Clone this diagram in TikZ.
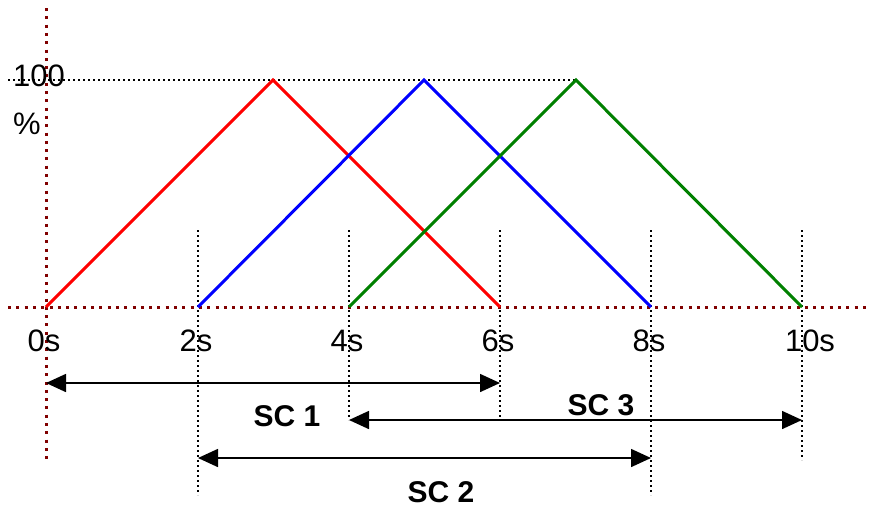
\documentclass[tikz,border=0pt]{standalone}
\usepackage{fontspec}
\setmainfont{Liberation Sans}
\usetikzlibrary{arrows.meta}
\definecolor{axisred}{RGB}{128,0,0}
\definecolor{dgreen}{RGB}{0,128,0}
\begin{document}
\begin{tikzpicture}[x=1pt,y=-1pt,
  axisline/.style={draw=axisred,line width=3pt,dash pattern=on 3pt off 5.3pt},
  guide/.style={draw=black,line width=1.8pt,dash pattern=on 1.8pt off 3.2pt},
  ramp/.style={line width=3pt,line join=miter},
  span/.style={draw=black,line width=1.6pt,{Triangle[length=20pt,width=18pt]}-{Triangle[length=20pt,width=18pt]}},
  ticklbl/.style={font=\fontsize{31}{36}\selectfont,inner sep=0pt},
  sclbl/.style={font=\fontsize{30}{36}\selectfont\bfseries,inner sep=0pt}]
\useasboundingbox (0,0) rectangle (869,512);
% coordinates
\coordinate (t0) at (46,307);
\coordinate (t2) at (198,307);
\coordinate (t4) at (349,307);
\coordinate (t6) at (500,307);
\coordinate (t8) at (651,307);
\coordinate (t10) at (802,307);
\coordinate (pr) at (273,80);
\coordinate (pb) at (424,80);
\coordinate (pg) at (576,80);
% guides
\coordinate (hl) at (8,80);
\draw[guide] (hl) -- (pg);
\coordinate (g2a) at (198,230); \coordinate (g2b) at (198,495);
\coordinate (g4a) at (349,230); \coordinate (g4b) at (349,420);
\coordinate (g6a) at (500,230); \coordinate (g6b) at (500,420);
\coordinate (g8a) at (651,230); \coordinate (g8b) at (651,495);
\coordinate (g10a) at (802,230); \coordinate (g10b) at (802,460);
\draw[guide] (g2a) -- (g2b);
\draw[guide] (g4a) -- (g4b);
\draw[guide] (g6a) -- (g6b);
\draw[guide] (g8a) -- (g8b);
\draw[guide] (g10a) -- (g10b);
% axes
\coordinate (ya) at (46,8); \coordinate (yb) at (46,460);
\coordinate (xa) at (8,307); \coordinate (xb) at (869,307);
\draw[axisline] (ya) -- (yb);
\draw[axisline] (xa) -- (xb);
% ramps
\draw[ramp,red] (t0) -- (pr) -- (t6);
\draw[ramp,blue] (t2) -- (pb) -- (t8);
\draw[ramp,dgreen] (t4) -- (pg) -- (t10);
% labels
\node[ticklbl] (l100) at (39,76) {100};
\node[ticklbl] (lpct) at (27,124) {\%};
\node[ticklbl] (l0) at (44,341) {0s};
\node[ticklbl] (l2) at (196,341) {2s};
\node[ticklbl] (l4) at (347,341) {4s};
\node[ticklbl] (l6) at (498,341) {6s};
\node[ticklbl] (l8) at (649,341) {8s};
\node[ticklbl] (l10) at (810,341) {10s};
% spans
\coordinate (s1a) at (46,383); \coordinate (s1b) at (500,383);
\coordinate (s3a) at (349,420); \coordinate (s3b) at (802,420);
\coordinate (s2a) at (198,458); \coordinate (s2b) at (651,458);
\draw[span] (s1a) -- (s1b);
\draw[span] (s3a) -- (s3b);
\draw[span] (s2a) -- (s2b);
\node[sclbl] (sc1) at (287,416) {SC 1};
\node[sclbl] (sc3) at (601,405) {SC 3};
\node[sclbl] (sc2) at (441,492) {SC 2};
\end{tikzpicture}
\end{document}
